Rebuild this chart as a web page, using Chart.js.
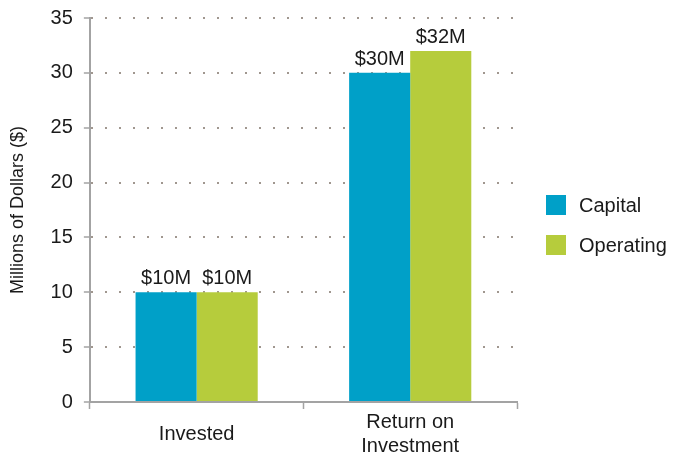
<!DOCTYPE html>
<html>
<head>
<meta charset="utf-8">
<script src="https://cdn.jsdelivr.net/npm/chart.js"></script>
<style>
  html, body { margin: 0; padding: 0; background: #fff; }
  #wrap { width: 675px; height: 459px; }
</style>
</head>
<body>
<div id="wrap"><canvas id="chart"></canvas></div>
<script>
// data
const categories = ['Invested', ['Return on', 'Investment']];
const seriesNames = ['Capital', 'Operating'];
const capital = [10, 30];
const operating = [10, 32];
const seriesColors = ['#00a0c8', '#b6cc3c'];

const FONT = '"Liberation Sans", Arial, Helvetica, sans-serif';
const GRAY = '#a3a3a3';

// value labels above each bar ("$10M")
const valueLabels = {
  id: 'valueLabels',
  afterDatasetsDraw(chart) {
    const ctx = chart.ctx;
    ctx.save();
    ctx.font = '20px ' + FONT;
    ctx.fillStyle = '#1a1a1a';
    ctx.textAlign = 'center';
    ctx.textBaseline = 'alphabetic';
    chart.data.datasets.forEach((ds, i) => {
      chart.getDatasetMeta(i).data.forEach((bar, j) => {
        ctx.fillText('$' + ds.data[j] + 'M', bar.x, bar.y - 8);
      });
    });
    ctx.restore();
  }
};

// simple legend on the right, square swatches
const sideLegend = {
  id: 'sideLegend',
  afterDraw(chart) {
    const ctx = chart.ctx;
    ctx.save();
    ctx.font = '20px ' + FONT;
    ctx.textBaseline = 'middle';
    chart.data.datasets.forEach((ds, i) => {
      const y = 195 + i * 40;
      ctx.fillStyle = ds.backgroundColor;
      ctx.fillRect(546, y, 20, 20);
      ctx.fillStyle = '#1a1a1a';
      ctx.fillText(ds.label, 579, y + 11);
    });
    ctx.restore();
  }
};

new Chart('chart', {
  type: 'bar',
  data: {
    labels: categories,
    datasets: [
      { label: seriesNames[0], data: capital, backgroundColor: seriesColors[0] },
      { label: seriesNames[1], data: operating, backgroundColor: seriesColors[1] }
    ]
  },
  options: {
    responsive: true,
    maintainAspectRatio: false,
    animation: false,
    datasets: {
      bar: { categoryPercentage: 0.572, barPercentage: 1.0 }
    },
    layout: { padding: { top: 18, right: 158, bottom: 0, left: 5 } },
    plugins: {
      legend: { display: false },
      tooltip: { enabled: false }
    },
    scales: {
      x: {
        afterFit(scale) { scale.height = 57; },
        grid: {
          drawOnChartArea: false,
          tickLength: 7,
          tickColor: GRAY,
          tickWidth: 1.5
        },
        border: { color: GRAY, width: 2 },
        ticks: {
          color: '#1a1a1a',
          font: { family: FONT, size: 20 },
          padding: 13,
          crossAlign: 'center',
          maxRotation: 0
        }
      },
      y: {
        min: 0,
        max: 35,
        afterFit(scale) { scale.paddingTop = 0; },
        ticks: {
          stepSize: 5,
          color: '#1a1a1a',
          font: { family: FONT, size: 20, lineHeight: 1 },
          padding: 11
        },
        grid: {
          color: '#a0978f',
          lineWidth: 2,
          tickLength: 6,
          tickColor: GRAY,
          tickWidth: 1.5,
          tickBorderDash: []
        },
        border: { color: GRAY, width: 2, dash: [2, 12] },
        title: {
          display: true,
          text: 'Millions of Dollars ($)',
          color: '#1a1a1a',
          font: { family: FONT, size: 18 },
          padding: { top: 2, bottom: 11 }
        }
      }
    }
  },
  plugins: [valueLabels, sideLegend]
});
</script>
</body>
</html>
